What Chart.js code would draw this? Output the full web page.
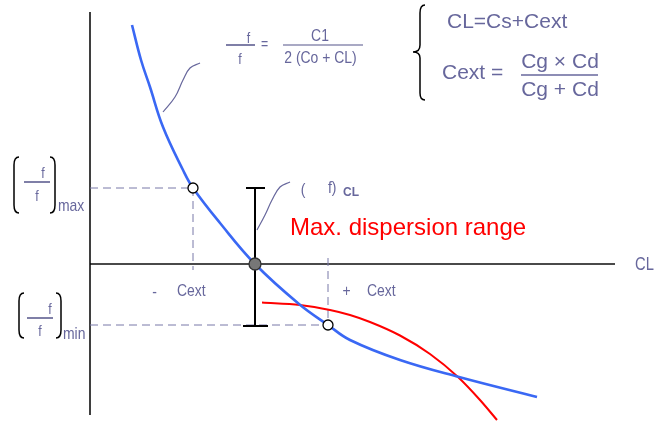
<!DOCTYPE html>
<html>
<head>
<meta charset="utf-8">
<script src="https://cdn.jsdelivr.net/npm/chart.js@4/dist/chart.umd.min.js"></script>
<style>
  html, body { margin: 0; padding: 0; background: #fff; }
  #wrap { width: 665px; height: 421px; position: relative; }
</style>
</head>
<body>
<div id="wrap"><canvas id="c"></canvas></div>
<script>
// Frequency deviation vs load capacitance (origin = axis crossing, y up)
const blueX = [4.2, 5.1, 6.0, 7.3, 9.3, 10.3, 13.0, 16.5, 20.9, 23.8, 26.0, 31.0, 36.9, 44.7];
const blueY = [23.9, 20.4, 17.7, 13.7, 9.4, 7.6, 4.1, 0, -4.0, -6.1, -7.6, -9.6, -11.3, -13.3];

const redX = [17.2, 21.0, 24.0, 26.0, 28.0, 31.0, 34.0, 36.8, 39.0, 40.7];
const redY = [-3.85, -4.1, -4.6, -5.1, -5.8, -7.15, -9.0, -11.3, -13.6, -15.6];

// operating points: max / min deviation (open) and nominal (filled)
const openX = [10.3, 23.8];
const openY = [7.6, -6.1];
const centerX = [16.5];
const centerY = [0];

// axes of the diagram
const vAxisY = [25.2, -15.1];
const hAxisX = [0, 52.5];

// thin call-out curves
const lead1X = [7.3, 8.5, 9.3, 10.0, 11.0];
const lead1Y = [15.2, 16.7, 18.4, 19.6, 20.1];
const lead2X = [16.7, 17.5, 18.2, 19.0, 20.0];
const lead2Y = [3.4, 4.9, 6.4, 7.7, 8.2];

const pts = (xs, ys) => xs.map((x, i) => ({ x, y: ys[i] }));

const SLATE = '#67679c';
const DASH = '#7878a8';
const ARIAL = '"Liberation Sans", Arial, sans-serif';

const maxPt = { x: openX[0], y: openY[0] };
const minPt = { x: openX[1], y: openY[1] };
const nom = { x: centerX[0], y: centerY[0] };

const line = (data, color, width, extra) => Object.assign({
  type: 'scatter', data, showLine: true, borderColor: color, borderWidth: width,
  pointRadius: 0, pointHoverRadius: 0, fill: false
}, extra || {});

const datasets = [
  line(pts([0, 0], vAxisY), '#000', 1.5, { order: 10 }),
  line(pts(hAxisX, [0, 0]), '#4a4a4a', 2, { order: 10 }),
  line([{ x: 0, y: maxPt.y }, maxPt], DASH, 1, { borderDash: [8, 5], order: 9 }),
  line([maxPt, { x: maxPt.x, y: -0.6 }], DASH, 1, { borderDash: [8, 5], order: 9 }),
  line([{ x: 0, y: minPt.y }, minPt], DASH, 1, { borderDash: [8, 5], order: 9 }),
  line([{ x: minPt.x, y: 0.6 }, minPt], DASH, 1, { borderDash: [8, 5], order: 9 }),
  line(pts(lead1X, lead1Y), SLATE, 1.2, { tension: 0.4, order: 8 }),
  line(pts(lead2X, lead2Y), SLATE, 1.2, { tension: 0.4, order: 8 }),
  line(pts(redX, redY), '#ff0000', 2, { cubicInterpolationMode: 'monotone', order: 6 }),
  line(pts(blueX, blueY), '#3a68f4', 2.6, { tension: 0.4, order: 5 }),
  // dispersion range bar
  line([{ x: nom.x, y: maxPt.y }, { x: nom.x, y: minPt.y - 0.1 }], '#000', 2, { order: 4 }),
  line([{ x: nom.x - 0.9, y: maxPt.y }, { x: nom.x + 1.0, y: maxPt.y }], '#000', 2, { order: 4 }),
  line([{ x: nom.x - 1.2, y: minPt.y - 0.1 }, { x: nom.x + 1.3, y: minPt.y - 0.1 }], '#000', 2, { order: 4 }),
  {
    type: 'scatter', data: pts(openX, openY), pointRadius: 5, pointHoverRadius: 5,
    pointBackgroundColor: '#fff', pointBorderColor: '#000', pointBorderWidth: 1.3, order: 2
  },
  {
    type: 'scatter', data: pts(centerX, centerY), pointRadius: 6, pointHoverRadius: 6,
    pointBackgroundColor: '#777', pointBorderColor: '#333', pointBorderWidth: 1.3, order: 1
  }
];

// text and formula layout, in the same data frame (n = condensed face)
const texts = [
  { t: 'f', x: 15.85, y: 22.5, s: 15, n: 1, c: SLATE, a: 'center' },
  { t: 'f', x: 15.0, y: 20.4, s: 15, n: 1, c: SLATE, a: 'center' },
  { t: '=', x: 17.45, y: 21.9, s: 15, n: 1, c: SLATE, a: 'center' },
  { t: 'C1', x: 23.0, y: 22.8, s: 17, n: 1, c: SLATE, a: 'center' },
  { t: '2 (Co + CL)', x: 23.05, y: 20.6, s: 17, n: 1, c: SLATE, a: 'center' },
  { t: 'CL=Cs+Cext', x: 35.7, y: 24.2, s: 21, c: SLATE, a: 'left' },
  { t: 'Cext =', x: 35.2, y: 19.1, s: 21, c: SLATE, a: 'left' },
  { t: 'Cg \u00d7 Cd', x: 47.0, y: 20.2, s: 21, c: SLATE, a: 'center' },
  { t: 'Cg + Cd', x: 47.0, y: 17.4, s: 21, c: SLATE, a: 'center' },
  { t: 'f', x: -4.7, y: 9.0, s: 15, n: 1, c: SLATE, a: 'center' },
  { t: 'f', x: -5.3, y: 6.7, s: 15, n: 1, c: SLATE, a: 'center' },
  { t: 'max', x: -3.2, y: 5.8, s: 17, n: 1, c: SLATE, a: 'left' },
  { t: 'f', x: -4.0, y: -4.6, s: 15, n: 1, c: SLATE, a: 'center' },
  { t: 'f', x: -5.0, y: -6.8, s: 15, n: 1, c: SLATE, a: 'center' },
  { t: 'min', x: -2.7, y: -7.0, s: 17, n: 1, c: SLATE, a: 'left' },
  { t: '(', x: 21.3, y: 7.4, s: 17, n: 1, c: SLATE, a: 'center' },
  { t: 'f)', x: 23.8, y: 7.6, s: 17, n: 1, c: SLATE, a: 'left' },
  { t: 'CL', x: 25.3, y: 7.1, s: 12, b: 1, c: SLATE, a: 'left' },
  { t: 'Max. dispersion range', x: 20.0, y: 3.6, s: 24, c: '#ff0000', a: 'left' },
  { t: '-', x: 6.45, y: -2.8, s: 17, n: 1, c: SLATE, a: 'center' },
  { t: 'Cext', x: 8.7, y: -2.7, s: 17, n: 1, c: SLATE, a: 'left' },
  { t: '+', x: 25.65, y: -2.7, s: 17, n: 1, c: SLATE, a: 'center' },
  { t: 'Cext', x: 27.7, y: -2.7, s: 17, n: 1, c: SLATE, a: 'left' },
  { t: 'CL', x: 54.5, y: -0.1, s: 18, n: 1, c: SLATE, a: 'left' }
];

const bars = [
  { x0: 13.6, x1: 16.5, y: 21.9, c: '#55558a', w: 1.5 },
  { x0: 19.3, x1: 27.3, y: 21.9, c: '#55558a', w: 1.2 },
  { x0: 43.1, x1: 50.8, y: 18.9, c: SLATE, w: 1.5 },
  { x0: -6.6, x1: -4.0, y: 8.2, c: '#55558a', w: 1.5 },
  { x0: -6.3, x1: -3.7, y: -5.4, c: '#55558a', w: 1.5 }
];

// bracket pairs: straight edge x, curl-end x, top y, bottom y
const parens = [
  { xs: -7.6, xe: -7.1, y0: 10.7, y1: 5.1 },
  { xs: -3.5, xe: -4.0, y0: 10.7, y1: 5.1 },
  { xs: -7.1, xe: -6.6, y0: -2.9, y1: -7.4 },
  { xs: -2.9, xe: -3.4, y0: -2.9, y1: -7.4 }
];

const brace = [[33.5, 25.9], [33.0, 25.1], [33.0, 21.9], [32.3, 21.2], [33.0, 20.6], [33.0, 17.1], [33.5, 16.4]];

const NARROW_K = 0.82;

const annotate = {
  id: 'annotate',
  afterDatasetsDraw(chart) {
    const ctx = chart.ctx, sx = chart.scales.x, sy = chart.scales.y;
    const X = v => sx.getPixelForValue(v), Y = v => sy.getPixelForValue(v);
    ctx.save();
    bars.forEach(b => {
      ctx.strokeStyle = b.c; ctx.lineWidth = b.w;
      ctx.beginPath(); ctx.moveTo(X(b.x0), Y(b.y)); ctx.lineTo(X(b.x1), Y(b.y)); ctx.stroke();
    });
    ctx.strokeStyle = '#000'; ctx.lineWidth = 1.5;
    parens.forEach(p => {
      const xs = X(p.xs), xe = X(p.xe), y0 = Y(p.y0), y1 = Y(p.y1);
      ctx.beginPath();
      ctx.moveTo(xe, y0);
      ctx.quadraticCurveTo(xs, y0, xs, y0 + 8);
      ctx.lineTo(xs, y1 - 8);
      ctx.quadraticCurveTo(xs, y1, xe, y1);
      ctx.stroke();
    });
    // curly brace
    const b = brace.map(p => [X(p[0]), Y(p[1])]);
    ctx.beginPath();
    ctx.moveTo(b[0][0], b[0][1]);
    ctx.quadraticCurveTo(b[1][0], b[0][1], b[1][0], b[1][1]);
    ctx.lineTo(b[2][0], b[2][1]);
    ctx.quadraticCurveTo(b[2][0], b[3][1], b[3][0], b[3][1]);
    ctx.quadraticCurveTo(b[4][0], b[3][1], b[4][0], b[4][1]);
    ctx.lineTo(b[5][0], b[5][1]);
    ctx.quadraticCurveTo(b[5][0], b[6][1], b[6][0], b[6][1]);
    ctx.stroke();
    ctx.textBaseline = 'middle';
    texts.forEach(t => {
      ctx.save();
      ctx.font = (t.b ? 'bold ' : '') + t.s + 'px ' + ARIAL;
      ctx.fillStyle = t.c; ctx.textAlign = t.a;
      ctx.translate(X(t.x), Y(t.y));
      if (t.n) ctx.scale(NARROW_K, 1);
      ctx.fillText(t.t, 0, 0);
      ctx.restore();
    });
    ctx.restore();
  }
};

new Chart(document.getElementById('c'), {
  type: 'scatter',
  data: { datasets },
  options: {
    responsive: true,
    maintainAspectRatio: false,
    animation: false,
    layout: { padding: 0, autoPadding: false },
    events: [],
    plugins: { legend: { display: false }, tooltip: { enabled: false } },
    scales: {
      x: { type: 'linear', min: -9, max: 57.5, display: false },
      y: { type: 'linear', min: -15.7, max: 26.4, display: false }
    }
  },
  plugins: [annotate]
});
</script>
</body>
</html>
